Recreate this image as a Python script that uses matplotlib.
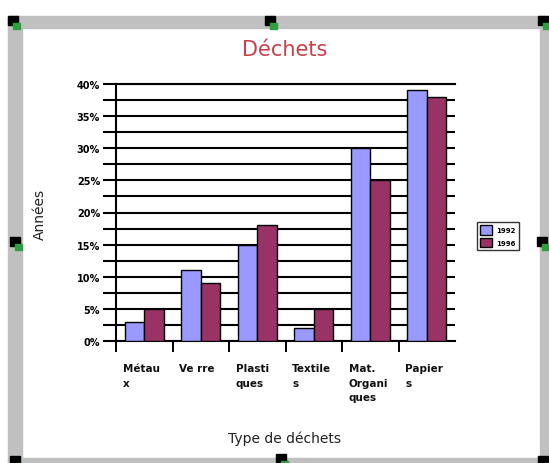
import matplotlib.pyplot as plt
import numpy as np
from matplotlib.patches import Rectangle
from matplotlib.ticker import MultipleLocator, FuncFormatter
from matplotlib.transforms import blended_transform_factory

categories = ["Métau\nx", "Ve rre", "Plasti\nques", "Textile\ns", "Mat.\nOrgani\nques", "Papier\ns"]
years = ["1992", "1996"]
values_1992 = [3, 11, 15, 2, 30, 39]
values_1996 = [5, 9, 18, 5, 25, 38]
colors = ["#9999FF", "#993366"]

W, H = 549, 464
fig = plt.figure(figsize=(W / 100, H / 100), dpi=100)
fig.patch.set_facecolor("white")

# gray selection frame around the chart
def fig_rect(x0, y0, x1, y1, color, z=0):
    fig.patches.append(Rectangle((x0 / W, 1 - y1 / H), (x1 - x0) / W, (y1 - y0) / H,
                                 transform=fig.transFigure, color=color, zorder=z))

frame_gray = "#C0C0C0"
fig_rect(8, 17, 549, 29, frame_gray)
fig_rect(8, 17, 22, 464, frame_gray)
fig_rect(540, 17, 549, 464, frame_gray)
fig_rect(8, 459, 549, 464, frame_gray)

# resize handles
for hx, hy in [(8, 17), (265, 17), (538, 17), (10, 238), (537, 238),
               (10, 457), (276, 455), (538, 457)]:
    fig_rect(hx, hy, hx + 10, hy + 9, "black", 3)
    fig_rect(hx + 5, hy + 7, hx + 12, hy + 13, "#2E9E3E", 4)

ax = fig.add_axes([116 / W, 1 - 342 / H, (455 - 116) / W, (342 - 85) / H])
ax.set_facecolor("white")

x = np.arange(len(categories)) + 0.5
bw = 0.345
ax.bar(x - bw / 2, values_1992, bw, color=colors[0], edgecolor="black", linewidth=1.0, label=years[0], zorder=3)
ax.bar(x + bw / 2, values_1996, bw, color=colors[1], edgecolor="black", linewidth=1.0, label=years[1], zorder=3)

ax.set_xlim(0, len(categories))
ax.set_ylim(0, 40)
ax.yaxis.set_major_locator(MultipleLocator(5))
ax.yaxis.set_minor_locator(MultipleLocator(2.5))
ax.yaxis.set_major_formatter(FuncFormatter(lambda v, p: f"{v:.0f}%"))
ax.grid(True, axis="y", which="both", color="black", linewidth=1.5)
ax.set_axisbelow(True)
ax.tick_params(axis="y", which="both", direction="out", length=9.5, width=1.5,
               color="black", labelsize=7, pad=2)
for lbl in ax.get_yticklabels():
    lbl.set_fontweight("bold")

ax.set_xticks(np.arange(len(categories)))
ax.set_xticklabels([])
ax.tick_params(axis="x", direction="out", length=8, width=1.4, color="black")

ax.spines["right"].set_visible(False)
for side in ["left", "bottom", "top"]:
    ax.spines[side].set_color("black")
    ax.spines[side].set_linewidth(1.5)

trans = blended_transform_factory(ax.transData, ax.transAxes)
for i, name in enumerate(categories):
    ax.text(i + 0.12, -0.085, name, transform=trans, ha="left", va="top",
            fontsize=7.5, fontweight="bold", linespacing=1.6, color="#111111")

fig.text(285 / W, 1 - 50 / H, "Déchets", ha="center", va="center",
         fontsize=15, color="#C8404A")
fig.text(285 / W, 1 - 439 / H, "Type de déchets", ha="center", va="center",
         fontsize=10, color="#222222")
fig.text(40 / W, 1 - 214 / H, "Années", ha="center", va="center", rotation=90,
         fontsize=10, color="#222222")

leg = fig.legend(loc="upper left", bbox_to_anchor=(477 / W, 1 - 223 / H), fontsize=5,
                 frameon=True, fancybox=False, edgecolor="black", handlelength=1.7,
                 handleheight=1.7, borderpad=0.5, labelspacing=0.4, handletextpad=0.6,
                 borderaxespad=0)
leg.get_frame().set_linewidth(1.0)
for t in leg.get_texts():
    t.set_fontweight("bold")

fig.savefig("out.png", dpi=100)
